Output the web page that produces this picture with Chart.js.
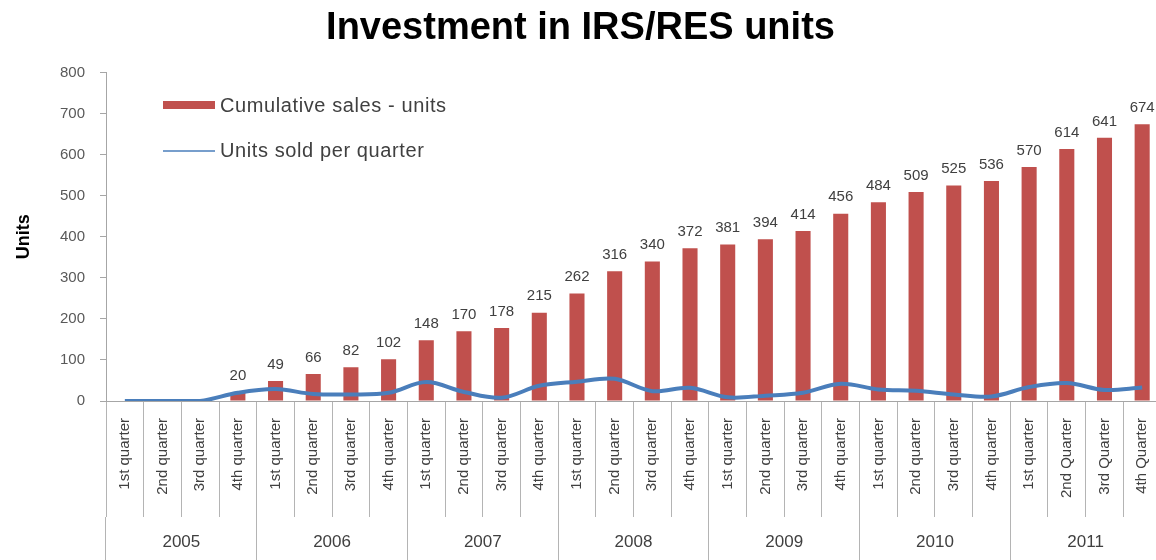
<!DOCTYPE html>
<html>
<head>
<meta charset="utf-8">
<script src="https://cdn.jsdelivr.net/npm/chart.js@4.4.1/dist/chart.umd.min.js"></script>
<style>
  html, body { margin: 0; padding: 0; background: #fff; overflow: hidden; }
  #wrap { position: absolute; left: 0; top: 0; width: 1162px; height: 560px; }
</style>
</head>
<body>
<div id="wrap"><canvas id="myChart"></canvas></div>
<script>
var quarters = [
  '1st quarter', '2nd quarter', '3rd quarter', '4th quarter',
  '1st quarter', '2nd quarter', '3rd quarter', '4th quarter',
  '1st quarter', '2nd quarter', '3rd quarter', '4th quarter',
  '1st quarter', '2nd quarter', '3rd quarter', '4th quarter',
  '1st quarter', '2nd quarter', '3rd quarter', '4th quarter',
  '1st quarter', '2nd quarter', '3rd quarter', '4th quarter',
  '1st quarter', '2nd Quarter', '3rd Quarter', '4th Quarter'
]
var years = ['2005', '2006', '2007', '2008', '2009', '2010', '2011']
var cumulative = [0, 0, 0, 20, 49, 66, 82, 102, 148, 170, 178, 215, 262, 316, 340, 372,
                  381, 394, 414, 456, 484, 509, 525, 536, 570, 614, 641, 674]
var perQuarter = [0, 0, 0, 20, 29, 17, 16, 20, 46, 22, 8, 37, 47, 54, 24, 32,
                  9, 13, 20, 42, 28, 25, 16, 11, 34, 44, 27, 33]
var yTicks = [0, 100, 200, 300, 400, 500, 600, 700, 800]

var red = '#C0504D'
var blue = '#4A7EBB'
var textGray = '#404040'
var lineGray = '#b4b4b4'

// value labels above the bars
var barLabels = {
  id: 'barLabels',
  afterDatasetsDraw: function (chart) {
    var ctx = chart.ctx
    var meta = chart.getDatasetMeta(1)
    ctx.save()
    ctx.font = '15px "Liberation Sans", Arial, sans-serif'
    ctx.fillStyle = textGray
    ctx.textAlign = 'center'
    ctx.textBaseline = 'bottom'
    meta.data.forEach(function (bar, i) {
      if (cumulative[i] > 0) ctx.fillText(cumulative[i], bar.x, bar.y - 9)
    })
    ctx.restore()
  }
}

// legend inside the plot, top left
var innerLegend = {
  id: 'innerLegend',
  afterDraw: function (chart) {
    var ctx = chart.ctx
    ctx.save()
    ctx.fillStyle = red
    ctx.fillRect(163, 101, 52, 8)
    ctx.strokeStyle = blue
    ctx.lineWidth = 1.5
    ctx.beginPath()
    ctx.moveTo(163, 151)
    ctx.lineTo(215, 151)
    ctx.stroke()
    ctx.font = '20px "Liberation Sans", Arial, sans-serif'
    if ('letterSpacing' in ctx) ctx.letterSpacing = '0.6px'
    ctx.fillStyle = textGray
    ctx.textBaseline = 'middle'
    ctx.fillText(chart.data.datasets[1].label, 220, 106)
    ctx.fillText(chart.data.datasets[0].label, 220, 151)
    ctx.restore()
  }
}

var myChart = document.getElementById('myChart').getContext('2d')

var chart = new Chart(myChart, {
  data: {
    labels: quarters,
    datasets: [
      {
        type: 'line',
        label: 'Units sold per quarter',
        data: perQuarter,
        borderColor: blue,
        borderWidth: 4,
        tension: 0.35,
        pointRadius: 0,
        fill: false,
        order: 0
      },
      {
        type: 'bar',
        label: 'Cumulative sales - units',
        data: cumulative,
        backgroundColor: red,
        barPercentage: 0.4,
        categoryPercentage: 1,
        order: 1
      }
    ]
  },
  options: {
    responsive: true,
    maintainAspectRatio: false,
    animation: false,
    layout: { padding: { left: 0, right: 1, top: 0, bottom: 0 } },
    plugins: {
      legend: { display: false },
      tooltip: { enabled: false },
      title: {
        display: true,
        text: 'Investment in IRS/RES units',
        color: '#000',
        font: { family: '"Liberation Sans", Arial, sans-serif', size: 38, weight: 'bold' },
        padding: { top: 6, bottom: 21 }
      }
    },
    scales: {
      x: {
        type: 'category',
        position: 'bottom',
        weight: 0,
        offset: true,
        grid: {
          offset: true,
          drawOnChartArea: false,
          color: lineGray,
          tickLength: 116
        },
        border: { display: true, color: '#a6a6a6' },
        ticks: {
          autoSkip: false,
          minRotation: 90,
          maxRotation: 90,
          padding: -99,
          color: textGray,
          font: { family: '"Liberation Sans", Arial, sans-serif', size: 15 }
        },
        afterFit: function (scale) { scale.height = 116 }
      },
      year: {
        type: 'category',
        labels: years,
        position: 'bottom',
        weight: 1,
        offset: true,
        grid: {
          offset: true,
          drawOnChartArea: false,
          color: lineGray,
          tickLength: 43
        },
        border: { display: false },
        ticks: {
          autoSkip: false,
          maxRotation: 0,
          padding: -28,
          color: textGray,
          font: { family: '"Liberation Sans", Arial, sans-serif', size: 17 }
        },
        afterFit: function (scale) { scale.height = 43 }
      },
      y: {
        min: 0,
        max: 800,
        afterBuildTicks: function (scale) {
          scale.ticks = yTicks.map(function (v) { return { value: v } })
        },
        grid: {
          drawOnChartArea: false,
          color: '#a6a6a6',
          tickLength: 6
        },
        border: { display: true, color: '#a6a6a6' },
        ticks: {
          padding: 15,
          color: '#595959',
          font: { family: '"Liberation Sans", Arial, sans-serif', size: 15 }
        },
        title: {
          display: true,
          text: 'Units',
          color: '#000',
          padding: { top: 13, bottom: 0 },
          font: { family: '"Liberation Sans", Arial, sans-serif', size: 18, weight: 'bold' }
        },
        afterFit: function (scale) { scale.width = 106 }
      }
    }
  },
  plugins: [barLabels, innerLegend]
})
</script>
</body>
</html>
